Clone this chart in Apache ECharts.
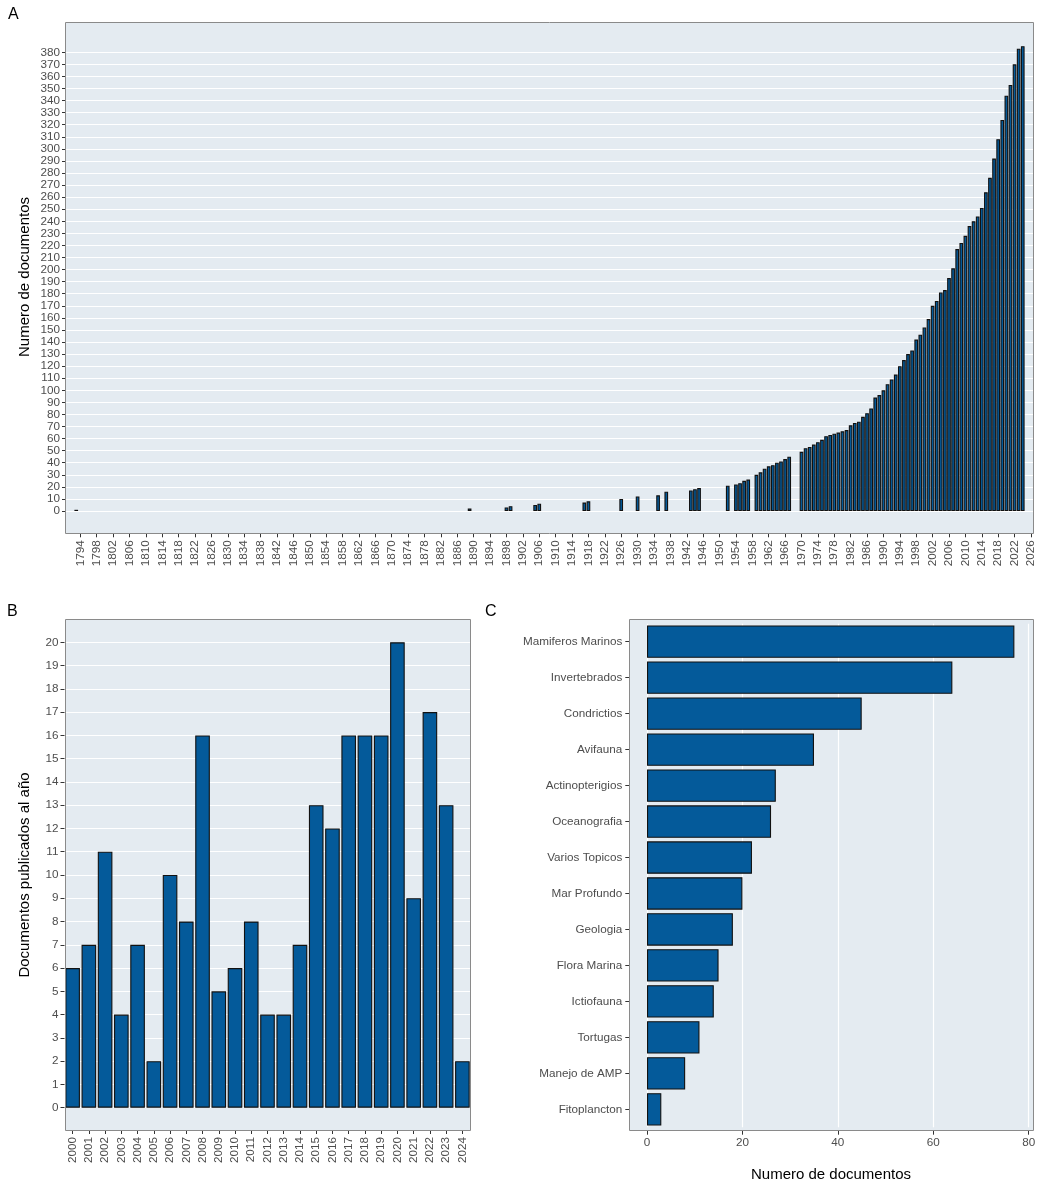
<!DOCTYPE html>
<html><head><meta charset="utf-8">
<script src="https://cdn.jsdelivr.net/npm/echarts@6/dist/echarts.min.js"></script>
<style>html,body{margin:0;padding:0;background:#fff}#c{width:1037px;height:1186px}</style>
</head><body><div id="c"></div>
<script>
// ---- Panel A: cumulative documents by year ----
const yearsA = [1793, 1889, 1898, 1899, 1905, 1906, 1917, 1918, 1926, 1930, 1935, 1937,
  1943, 1944, 1945, 1952, 1954, 1955, 1956, 1957,
  1959, 1960, 1961, 1962, 1963, 1964, 1965, 1966, 1967,
  1970, 1971, 1972, 1973, 1974, 1975, 1976, 1977, 1978, 1979,
  1980, 1981, 1982, 1983, 1984, 1985, 1986, 1987, 1988, 1989,
  1990, 1991, 1992, 1993, 1994, 1995, 1996, 1997, 1998, 1999,
  2000, 2001, 2002, 2003, 2004, 2005, 2006, 2007, 2008, 2009,
  2010, 2011, 2012, 2013, 2014, 2015, 2016, 2017, 2018, 2019,
  2020, 2021, 2022, 2023, 2024];
const cumDocsA = [1, 2, 3, 4, 5, 6, 7, 8, 10, 12, 13, 16,
  17, 18, 19, 21, 22, 23, 25, 26,
  30, 32, 35, 37, 38, 40, 41, 43, 45,
  49, 52, 53, 55, 57, 59, 62, 63, 64, 65,
  66, 67, 71, 73, 74, 78, 81, 85, 94, 96,
  100, 105, 109, 113, 120, 125, 130, 133, 142, 146,
  152, 159, 170, 174, 181, 183, 193, 201, 217, 222,
  228, 236, 240, 244, 251, 264, 276, 292, 308, 324,
  344, 353, 370, 383, 385];
const ticksA = [1794, 1798, 1802, 1806, 1810, 1814, 1818, 1822, 1826, 1830, 1834, 1838,
  1842, 1846, 1850, 1854, 1858, 1862, 1866, 1870, 1874, 1878, 1882, 1886, 1890, 1894,
  1898, 1902, 1906, 1910, 1914, 1918, 1922, 1926, 1930, 1934, 1938, 1942, 1946, 1950,
  1954, 1958, 1962, 1966, 1970, 1974, 1978, 1982, 1986, 1990, 1994, 1998, 2002, 2006,
  2010, 2014, 2018, 2022, 2026];
const axisStartA = 1791, axisEndA = 2026;

// ---- Panel B: documents per year ----
const yearsB = [2000, 2001, 2002, 2003, 2004, 2005, 2006, 2007, 2008, 2009, 2010, 2011,
  2012, 2013, 2014, 2015, 2016, 2017, 2018, 2019, 2020, 2021, 2022, 2023, 2024];
const docsB = [6, 7, 11, 4, 7, 2, 10, 8, 16, 5, 6, 8, 4, 4, 7, 13, 12, 16, 16, 16, 20, 9, 17, 13, 2];

// ---- Panel C: documents per topic ----
const topicsC = ['Mamiferos Marinos', 'Invertebrados', 'Condrictios', 'Avifauna', 'Actinopterigios',
  'Oceanografia', 'Varios Topicos', 'Mar Profundo', 'Geologia', 'Flora Marina', 'Ictiofauna',
  'Tortugas', 'Manejo de AMP', 'Fitoplancton'];
const docsC = [77, 64, 45, 35, 27, 26, 22, 20, 18, 15, 14, 11, 8, 3];

// ---- build ----
const FONT = '"Liberation Sans", Arial, Helvetica, sans-serif';
const BAR = '#045A9A', PANEL = '#E4EBF1', LABEL = '#4D4D4D', TICK = '#333333', BORDER = '#8A8A8A';

const catsA = [];
for (let y = axisStartA; y <= axisEndA; y++) catsA.push(String(y));
const mapA = {};
yearsA.forEach((y, i) => { mapA[y] = cumDocsA[i]; });
const seriesDataA = catsA.map(c => (mapA[+c] !== undefined ? mapA[+c] : '-'));
const tickSet = new Set(ticksA.map(String));
const showTickA = (idx, val) => tickSet.has(String(val));

const tickLbl = { color: LABEL, fontSize: 11.7, fontFamily: FONT };
const tickLine = { color: TICK, width: 1 };
const noLine = { show: false, onZero: false };
const W = 1037, H = 1186;

function panel(x0, y0, x1, y1) {
  return [
    { type: 'rect', z: -10, silent: true, shape: { x: x0, y: y0, width: x1 - x0, height: y1 - y0 },
      style: { fill: PANEL, stroke: null } },
    { type: 'rect', z: 50, silent: true, shape: { x: x0, y: y0, width: x1 - x0, height: y1 - y0 },
      style: { fill: 'none', stroke: BORDER, lineWidth: 1 } }
  ];
}
function txt(text, x, y, size, rot, align, valign) {
  return { type: 'text', z: 60, x: x, y: y, rotation: rot || 0, silent: true,
    style: { text: text, x: 0, y: 0, fill: '#000', font: size + 'px ' + FONT,
      align: align || 'center', verticalAlign: valign || 'middle',
      textAlign: align || 'center', textVerticalAlign: valign || 'middle' } };
}

const chart = echarts.init(document.getElementById('c'), null, { renderer: 'canvas', width: W, height: H });
chart.setOption({
  animation: false,
  backgroundColor: '#ffffff',
  textStyle: { fontFamily: FONT },
  grid: [
    { left: 66, top: 52.3, width: 967, height: 458.7, outerBoundsMode: 'none', containLabel: false },
    { left: 64.5, top: 642.3, width: 406, height: 465.4, outerBoundsMode: 'none', containLabel: false },
    { left: 647, top: 623.7, width: 381.7, height: 503.6, outerBoundsMode: 'none', containLabel: false }
  ],
  xAxis: [
    { type: 'category', gridIndex: 0, data: catsA, boundaryGap: true, offset: 22.3,
      axisLine: noLine,
      axisTick: { show: true, alignWithLabel: true, interval: showTickA, length: 4, lineStyle: tickLine },
      axisLabel: { interval: showTickA, rotate: 90, margin: 7, ...tickLbl },
      splitLine: { show: false } },
    { type: 'category', gridIndex: 1, data: yearsB.map(String), boundaryGap: true, offset: 22.3,
      axisLine: noLine,
      axisTick: { show: true, alignWithLabel: true, interval: 0, length: 4, lineStyle: tickLine },
      axisLabel: { interval: 0, rotate: 90, margin: 7, ...tickLbl },
      splitLine: { show: false } },
    { type: 'value', gridIndex: 2, min: 0, max: 80, interval: 20, offset: 3.4,
      axisLine: noLine,
      axisTick: { show: true, length: 4, lineStyle: tickLine },
      axisLabel: { margin: 6, ...tickLbl },
      splitLine: { show: true, lineStyle: { color: '#ffffff', width: 1.2 } } }
  ],
  yAxis: [
    { type: 'value', gridIndex: 0, min: 0, max: 380, interval: 10,
      axisLine: noLine,
      axisTick: { show: true, length: 4, lineStyle: tickLine },
      axisLabel: { margin: 6, ...tickLbl },
      splitLine: { show: true, lineStyle: { color: '#ffffff', width: 1.2 } } },
    { type: 'value', gridIndex: 1, min: 0, max: 20, interval: 1,
      axisLine: noLine,
      axisTick: { show: true, length: 4, lineStyle: tickLine },
      axisLabel: { margin: 6, ...tickLbl },
      splitLine: { show: true, lineStyle: { color: '#ffffff', width: 1.2 } } },
    { type: 'category', gridIndex: 2, data: topicsC, inverse: true, boundaryGap: true, offset: 17.7,
      axisLine: noLine,
      axisTick: { show: true, alignWithLabel: true, length: 4, lineStyle: tickLine },
      axisLabel: { margin: 7, interval: 0, ...tickLbl },
      splitLine: { show: false } }
  ],
  series: [
    { type: 'bar', xAxisIndex: 0, yAxisIndex: 0, data: seriesDataA, barWidth: '90%', clip: false,
      itemStyle: { color: BAR, borderColor: '#111', borderWidth: 1.1 } },
    { type: 'bar', xAxisIndex: 1, yAxisIndex: 1, data: docsB, barWidth: '90%', clip: false,
      itemStyle: { color: BAR, borderColor: '#111', borderWidth: 1.1 } },
    { type: 'bar', xAxisIndex: 2, yAxisIndex: 2, data: docsC, barWidth: '90%', clip: false,
      itemStyle: { color: BAR, borderColor: '#111', borderWidth: 1.1 } }
  ],
  graphic: { elements: [
    ...panel(65.5, 22.5, 1033.5, 533.5),
    ...panel(65.5, 619.5, 470.5, 1130.5),
    ...panel(629.5, 619.5, 1033.5, 1130.5),
    txt('Numero de documentos', 25, 277, 15, Math.PI / 2),
    txt('Documentos publicados al año', 25, 875, 15, Math.PI / 2),
    txt('Numero de documentos', 831, 1175, 15, 0),
    txt('A', 8, 6.5, 16, 0, 'left', 'top'),
    txt('B', 7, 603.5, 16, 0, 'left', 'top'),
    txt('C', 485, 603.5, 16, 0, 'left', 'top')
  ] }
});
</script></body></html>
